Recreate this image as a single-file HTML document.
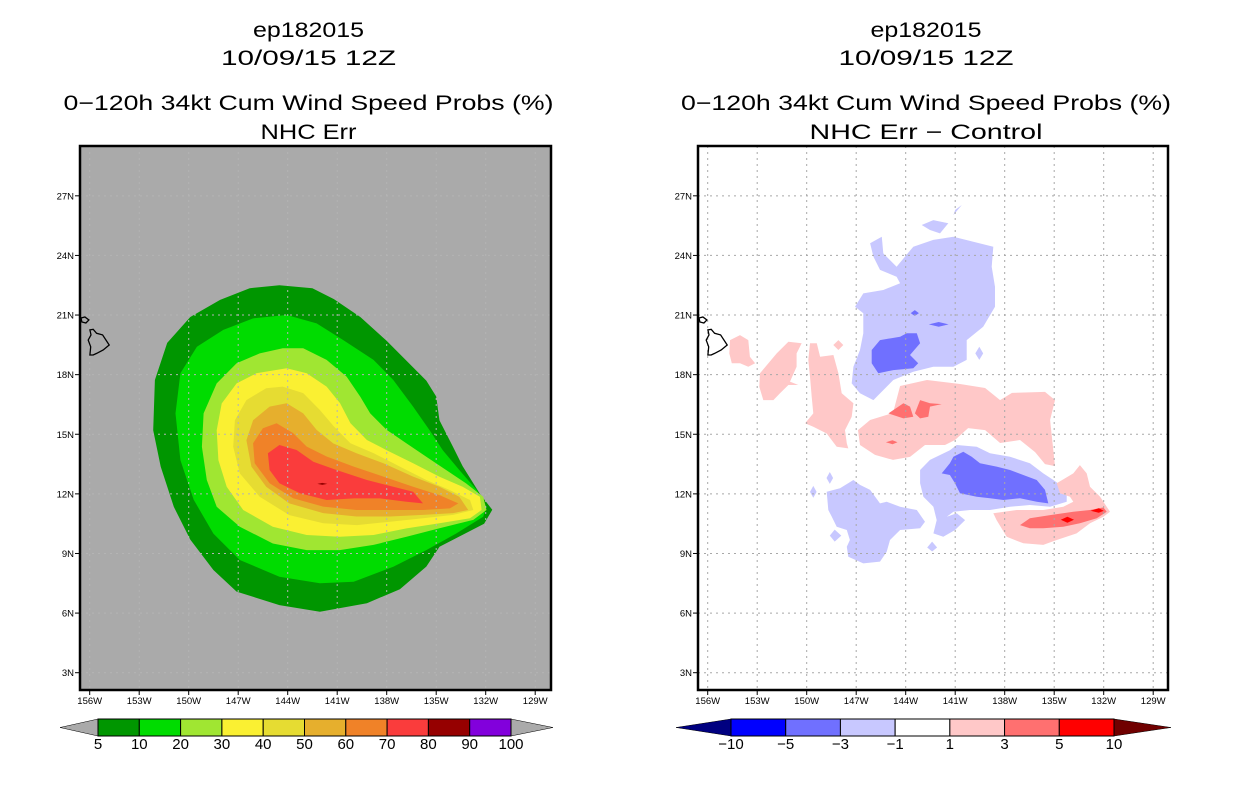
<!DOCTYPE html>
<html><head><meta charset="utf-8"><style>
body{margin:0;background:#fff;}
svg{display:block;font-family:"Liberation Sans",sans-serif;}
</style></head><body>
<svg id="c" width="1236" height="800" viewBox="0 0 1236 800">
<g id="L"></g>
<g id="R"></g>
</svg>
<script>
// ---- data ----
const lonTicks = [156,153,150,147,144,141,138,135,132,129];
const latTicks = [27,24,21,18,15,12,9,6,3];
const leftLevels = ["5","10","20","30","40","50","60","70","80","90","100"];
const leftColors = ["#009600","#00dc00","#a0e632","#faf032","#e6dc32","#e6af2d","#f08228","#fa3c3c","#960000","#8200dc"];
const rightLevels = ["−10","−5","−3","−1","1","3","5","10"];
const rightColors = ["#0000ff","#7070ff","#c8c8ff","#ffffff","#ffc8c8","#ff7070","#ff0000"];
// contours [lonW, latN]
const c05 = [[144.5,22.5],[142.5,22.35],[141.2,21.8],[139.6,20.9],[138.0,19.7],[136.8,18.7],[135.6,17.7],[135.0,16.9],[134.8,15.7],[134.0,14.4],[133.4,13.4],[132.35,12.0],[131.6,11.2],[132.1,10.5],[134.8,9.34],[135.6,8.34],[137.2,7.2],[139.2,6.5],[142.05,6.07],[144.5,6.4],[147.1,7.08],[148.5,8.17],[149.9,9.7],[150.9,11.35],[151.7,13.37],[152.15,15.2],[152.05,17.73],[151.3,19.6],[149.9,20.9],[148.1,21.76],[146.3,22.35]];
const c10 = [[144.06,21.0],[142.25,20.58],[140.63,19.74],[138.8,18.74],[137.6,17.73],[136.4,16.39],[135.4,15.2],[134.6,14.2],[133.6,13.2],[132.55,12.2],[131.95,11.35],[132.15,10.85],[133.8,10.0],[135.6,9.17],[137.6,8.33],[140.0,7.58],[142.05,7.5],[144.5,7.83],[146.9,8.67],[148.5,10.0],[149.7,11.7],[150.5,13.7],[150.8,16.05],[150.5,18.07],[149.5,19.4],[147.9,20.25],[146.1,20.83]];
const c20 = [[143.06,19.33],[141.64,18.74],[140.43,17.9],[139.6,16.89],[139.0,16.05],[138.0,15.22],[136.8,14.54],[135.6,13.87],[134.4,13.2],[133.2,12.53],[132.15,11.86],[131.95,11.19],[132.75,10.69],[134.8,10.27],[136.8,9.84],[138.8,9.43],[140.85,9.17],[142.85,9.17],[144.9,9.5],[146.9,10.35],[148.3,11.35],[148.9,12.7],[149.2,14.37],[149.1,16.05],[148.3,17.56],[147.1,18.57],[145.7,19.07],[144.3,19.33]];
const c30 = [[144.06,18.32],[142.85,18.07],[141.64,17.4],[140.83,16.57],[140.2,15.56],[139.2,14.71],[138.0,14.2],[136.4,13.54],[134.8,12.86],[133.4,12.36],[132.35,11.86],[132.25,11.19],[132.95,10.77],[134.8,10.52],[136.8,10.26],[138.8,9.93],[140.85,9.84],[142.85,9.93],[144.9,10.35],[146.7,11.19],[147.7,12.36],[148.2,13.7],[148.3,15.2],[148.0,16.55],[147.1,17.56],[145.9,18.07]];
const c40 = [[144.3,17.4],[143.06,17.07],[142.05,16.22],[141.2,15.39],[140.2,14.55],[138.8,14.05],[137.2,13.37],[135.6,12.7],[134.2,12.2],[132.95,11.69],[132.75,11.19],[133.97,10.94],[135.8,10.77],[137.8,10.6],[139.8,10.43],[141.85,10.52],[143.9,10.93],[145.7,11.86],[146.9,13.03],[147.3,14.37],[147.2,15.71],[146.5,16.72],[145.3,17.32]];
const c50 = [[144.06,16.56],[143.06,16.05],[142.25,15.22],[141.24,14.54],[139.83,14.04],[138.2,13.54],[136.4,12.87],[134.8,12.36],[133.6,11.86],[133.06,11.19],[133.97,11.03],[135.8,10.94],[137.8,10.86],[139.83,10.86],[141.85,11.03],[143.9,11.52],[145.3,12.36],[146.2,13.37],[146.5,14.7],[146.1,15.71],[145.1,16.39]];
const c60 = [[144.67,15.55],[143.67,15.06],[142.85,14.38],[141.64,13.88],[140.0,13.37],[138.2,12.87],[136.4,12.36],[134.8,11.94],[133.66,11.52],[134.17,11.27],[135.8,11.19],[137.8,11.19],[139.83,11.19],[141.85,11.36],[143.67,11.78],[145.1,12.53],[146.0,13.54],[146.1,14.55],[145.5,15.3]];
const c70 = [[144.5,14.46],[143.46,14.21],[142.45,13.62],[141.04,13.2],[139.2,12.7],[137.6,12.36],[136.4,12.11],[135.8,11.52],[136.8,11.6],[138.4,11.77],[140.0,11.77],[141.64,11.69],[143.26,12.03],[144.5,12.53],[145.1,13.2],[145.2,14.04]];
const c80 = [[142.2,12.5],[141.9,12.55],[141.6,12.5],[141.9,12.45]];
const bigIsland = [[155.99,20.25],[155.79,20.28],[155.58,20.08],[155.22,20.0],[154.82,19.49],[155.18,19.24],[155.58,19.07],[155.79,18.99],[155.99,18.99],[155.94,19.4],[156.09,19.74],[155.92,20.0]];
const smallIsland = [[156.53,20.85],[156.29,20.9],[156.05,20.75],[156.23,20.6],[156.47,20.65]];
// difference contours
const dNeg1 = [
 [[146.16,24.61],[145.45,24.94],[145.36,24.1],[144.55,23.43],[144.04,23.94],[143.54,24.44],[142.33,24.78],[141.11,24.94],[138.69,24.44],[138.79,23.43],[138.59,22.42],[138.59,21.42],[139.3,20.41],[140.3,19.74],[140.3,18.74],[141.11,18.4],[142.33,18.4],[143.54,18.15],[144.75,17.73],[145.96,16.72],[146.77,17.06],[147.27,17.56],[147.17,18.4],[146.77,19.24],[146.57,20.08],[146.57,21.09],[147.07,21.42],[146.57,22.09],[145.36,22.26],[144.34,22.6],[144.55,22.93],[145.56,23.27],[145.96,23.94]],
 [[143.03,25.53],[142.33,25.78],[141.42,25.62],[141.92,25.11],[142.53,25.28]],
 [[141.11,26.03],[140.6,26.54],[141.0,26.29]],
 [[139.54,19.4],[139.3,19.07],[139.54,18.74],[139.78,19.07]],
 [[143.13,13.2],[142.53,13.71],[141.32,14.2],[140.91,14.46],[139.7,14.37],[138.89,14.04],[137.68,13.87],[136.47,13.54],[135.66,13.03],[135.05,12.7],[134.24,12.2],[134.24,11.6],[135.25,11.35],[136.47,11.44],[137.68,11.35],[138.89,11.19],[140.1,11.19],[141.11,11.1],[141.51,10.85],[140.91,11.02],[140.4,10.68],[141.01,10.18],[141.72,9.84],[142.32,10.01],[142.12,10.68],[142.32,11.35],[142.93,11.86],[143.13,12.53]],
 [[148.79,12.11],[147.98,12.28],[147.17,12.7],[146.77,12.45],[146.16,12.2],[145.56,11.52],[145.15,11.6],[144.34,11.35],[143.33,11.19],[142.83,10.6],[143.13,10.27],[144.34,10.18],[144.95,9.68],[145.15,9.09],[145.56,8.59],[146.57,8.5],[147.48,8.84],[147.57,9.34],[147.38,9.68],[147.57,10.18],[148.18,10.35],[148.48,10.85],[148.69,11.19]],
 [[148.6,13.1],[148.4,12.8],[148.6,12.5],[148.8,12.8]],
 [[149.6,12.4],[149.4,12.1],[149.6,11.8],[149.8,12.1]],
 [[148.3,10.2],[147.9,9.9],[148.3,9.6],[148.6,9.9]],
 [[142.4,9.6],[142.1,9.3],[142.4,9.1],[142.7,9.3]]
];
const dNeg3 = [
 [[146.06,19.24],[145.56,19.74],[144.34,19.91],[143.94,20.08],[143.33,20.08],[143.13,19.58],[143.74,18.99],[143.24,18.57],[143.54,18.32],[144.75,18.23],[145.66,18.07],[146.06,18.57]],
 [[142.6,20.53],[142.0,20.65],[141.4,20.53],[142.0,20.41]],
 [[143.7,21.1],[143.45,21.25],[143.2,21.1],[143.45,20.95]],
 [[141.82,13.03],[141.32,13.54],[141.11,13.87],[140.51,14.12],[140.0,13.87],[139.5,13.54],[138.49,13.37],[137.68,13.2],[136.87,12.95],[136.06,12.7],[135.56,12.2],[135.36,11.52],[136.06,11.6],[137.07,11.78],[138.08,11.69],[138.89,11.78],[139.7,11.86],[140.71,12.03],[141.01,12.53],[141.32,12.95]]
];
const dPos1 = [
 [[154.65,19.74],[154.04,19.99],[153.54,19.74],[153.44,18.9],[153.13,18.57],[153.54,18.4],[154.04,18.57],[154.54,18.57],[154.69,19.07]],
 [[152.83,18.07],[151.82,19.07],[151.11,19.66],[150.3,19.58],[150.61,19.07],[150.61,18.4],[151.01,17.65],[150.51,17.48],[151.11,17.48],[151.62,17.06],[152.02,16.72],[152.63,16.72],[152.87,17.39]],
 [[149.8,19.58],[149.39,19.58],[149.19,18.9],[148.38,18.99],[148.08,18.07],[147.88,17.06],[147.17,16.56],[147.27,15.88],[147.68,15.21],[147.57,14.54],[147.48,14.29],[148.18,14.37],[148.79,15.04],[149.6,15.38],[150.1,15.55],[149.6,16.05],[149.7,16.89],[149.8,17.9],[149.9,18.74]],
 [[148.39,19.49],[148.08,19.74],[147.78,19.49],[148.08,19.24]],
 [[146.89,15.21],[146.16,15.72],[144.77,16.07],[144.34,17.43],[142.71,17.73],[140.71,17.53],[139.19,17.33],[138.28,16.72],[137.56,17.08],[135.56,17.13],[134.95,16.72],[135.25,15.72],[134.95,13.4],[135.56,13.5],[136.16,14.1],[137.07,14.71],[138.28,14.56],[139.19,15.21],[140.22,15.31],[141.01,14.71],[141.62,14.46],[142.83,14.46],[143.74,13.86],[144.77,13.71],[145.86,13.96],[146.77,14.46]],
 [[134.85,12.53],[133.84,13.03],[133.44,13.45],[133.03,13.03],[132.83,12.36],[132.22,11.86],[131.62,11.1],[132.02,10.85],[132.83,10.52],[133.64,10.01],[134.85,9.68],[135.66,9.43],[136.87,9.51],[137.88,9.84],[138.49,10.68],[138.69,11.02],[137.27,11.19],[135.66,11.19],[134.45,11.35],[133.84,11.6],[134.04,11.86],[134.65,12.03]]
];
const dPos3 = [
 [[145.05,16.05],[144.14,16.56],[143.74,16.39],[143.54,15.88],[144.14,15.8]],
 [[143.44,16.05],[143.13,16.72],[142.53,16.56],[141.82,16.52],[142.53,16.39],[142.63,15.88],[143.13,15.8]],
 [[145.2,14.6],[144.8,14.7],[144.5,14.6],[144.8,14.5]],
 [[137.07,10.43],[136.47,10.77],[135.25,10.93],[133.84,11.1],[132.83,11.19],[132.02,11.32],[131.82,11.1],[132.42,10.77],[133.44,10.52],[134.45,10.35],[135.66,10.27],[136.47,10.27]]
];
const dPos5 = [
 [[134.6,10.7],[134.2,10.85],[133.8,10.7],[134.2,10.55]],
 [[132.8,11.15],[132.3,11.28],[132.0,11.15],[132.3,11.05]]
];

// ---- axes ----
const NS = "http://www.w3.org/2000/svg";
function xL(lon){ return 89.7 + (156 - lon) * 16.5; }
function xR(lon){ return 707.7 + (156 - lon) * 16.5; }
function yM(lat){ return 672.7 - (lat - 3) * 19.87; }
function mk(tag, attrs, parent){ const e=document.createElementNS(NS,tag); for(const k in attrs) e.setAttribute(k,attrs[k]); parent.appendChild(e); return e; }
function pts(poly, fx){ return poly.map(p => fx(p[0]).toFixed(1)+","+yM(p[1]).toFixed(1)).join(" "); }

function panel(g, fx, x0, x1, bg, title2, id){
  const top=146, bot=690;
  const titles=[["ep182015",30,111],["10/09/15 12Z",58,175],["0−120h 34kt Cum Wind Speed Probs (%)",103,490],[title2,132,title2.length*13.7]];
  const cx=(x0+x1)/2-7;
  titles.forEach((t,i)=>{
    const e=mk("text",{x:cx,y:t[1]+7,"text-anchor":"middle","font-size":"21",fill:"#000",textLength:t[2],lengthAdjust:"spacingAndGlyphs"},g);
    e.textContent=t[0];
    
    
  });
  const cp=mk("clipPath",{id:"clip"+id},g);
  mk("rect",{x:x0,y:top,width:x1-x0,height:bot-top},cp);
  const bgr=mk("rect",{x:x0,y:top,width:x1-x0,height:bot-top,fill:bg},g);
  
  
  const inner=mk("g",{"clip-path":"url(#clip"+id+")"},g);
  
  
  return {inner, top, bot};
}
function poly(parent, p, fx, fill, name){
  const e=mk("polygon",{points:pts(p,fx),fill:fill},parent);
  
  
}
function grid(parent, fx, x0, x1, top, bot, color){
  lonTicks.forEach(l=>{ const e=mk("line",{x1:fx(l),x2:fx(l),y1:top,y2:bot,stroke:color,"stroke-width":1,"stroke-dasharray":"2,4"},parent);
      });
  latTicks.forEach(l=>{ const e=mk("line",{x1:x0,x2:x1,y1:yM(l),y2:yM(l),stroke:color,"stroke-width":1,"stroke-dasharray":"2,4"},parent);
      });
}
function islands(parent, fx){
  [bigIsland, smallIsland].forEach(p=>{
    const e=mk("polygon",{points:pts(p,fx),fill:"none",stroke:"#000","stroke-width":1.3},parent);
     
  });
}
function frame(g, fx, x0, x1, top, bot){
  const b=mk("rect",{x:x0,y:top,width:x1-x0,height:bot-top,fill:"none",stroke:"#000","stroke-width":2.5},g);
   
  latTicks.forEach(l=>{
    const t=mk("line",{x1:x0-5,x2:x0,y1:yM(l),y2:yM(l),stroke:"#000","stroke-width":1},g);
     
    const e=mk("text",{x:x0-6,y:yM(l)+3.5,"text-anchor":"end","font-size":"9.5",fill:"#000"},g);
    e.textContent=l+"N";
     
  });
  lonTicks.forEach(l=>{
    const t=mk("line",{x1:fx(l),x2:fx(l),y1:bot,y2:bot+5,stroke:"#000","stroke-width":1},g);
     
    const e=mk("text",{x:fx(l),y:bot+14,"text-anchor":"middle","font-size":"9.5",fill:"#000"},g);
    e.textContent=l+"W";
     
  });
}
function colorbar(g, x0, x1, tl, tr, colors, levels, lc, rc){
  const y0=719, y1=736, n=colors.length, w=(x1-x0)/n, ym=(y0+y1)/2;
  const a=mk("polygon",{points:`${tl},${ym} ${x0},${y0} ${x0},${y1}`,fill:lc,stroke:"#000","stroke-width":0.5},g);
   
  const b=mk("polygon",{points:`${tr},${ym} ${x1},${y0} ${x1},${y1}`,fill:rc,stroke:"#000","stroke-width":0.5},g);
   
  colors.forEach((c,i)=>{
    const r=mk("rect",{x:x0+i*w,y:y0,width:w,height:y1-y0,fill:c,stroke:"#000","stroke-width":1},g);
     
  });
  levels.forEach((l,i)=>{
    const e=mk("text",{x:x0+i*w,y:y1+13,"text-anchor":"middle","font-size":"15",fill:"#000"},g);
    e.textContent=l;
     
  });
}

// left panel
const L=document.getElementById("L");
const pl=panel(L,xL,80,551,"#aaaaaa","NHC Err","L");
[c05,c10,c20,c30,c40,c50,c60,c70,c80].forEach((p,i)=>poly(pl.inner,p,xL,leftColors[i],"prob-contour-"+leftLevels[i]));
grid(pl.inner,xL,80,551,pl.top,pl.bot,"#b4b4b4");
islands(pl.inner,xL);
frame(L,xL,80,551,pl.top,pl.bot);
colorbar(L,98,511,60,553,leftColors,leftLevels,"#aaaaaa","#aaaaaa");

// right panel
const R=document.getElementById("R");
const pr=panel(R,xR,698,1168,"#ffffff","NHC Err − Control","R");
dNeg1.forEach(p=>poly(pr.inner,p,xR,rightColors[2],"diff-contour-neg1"));
dPos1.forEach(p=>poly(pr.inner,p,xR,rightColors[4],"diff-contour-pos1"));
dNeg3.forEach(p=>poly(pr.inner,p,xR,rightColors[1],"diff-contour-neg3"));
dPos3.forEach(p=>poly(pr.inner,p,xR,rightColors[5],"diff-contour-pos3"));
dPos5.forEach(p=>poly(pr.inner,p,xR,rightColors[6],"diff-contour-pos5"));
grid(pr.inner,xR,698,1168,pr.top,pr.bot,"#a8a8a8");
islands(pr.inner,xR);
frame(R,xR,698,1168,pr.top,pr.bot);
colorbar(R,731,1114,676,1171,rightColors,rightLevels,"#000080","#700000");
</script>
</body></html>
